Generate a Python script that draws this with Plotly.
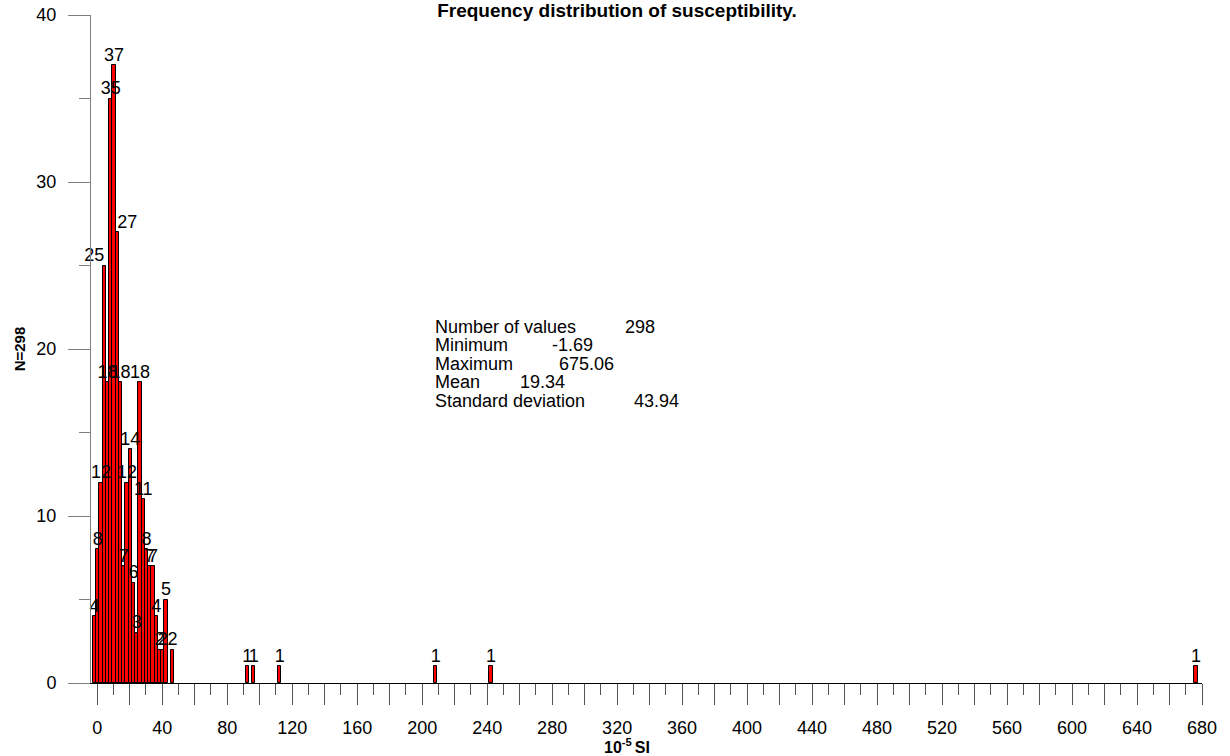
import plotly.graph_objects as go

# ---- data ----
BIN_CENTERS = [-1.7, 0.3, 2.3, 4.3, 6.3, 8.3, 10.3, 12.3, 14.3, 16.3, 18.3, 20.3,
               22.3, 24.3, 26.3, 28.3, 30.3, 32.3, 34.3, 36.3, 38.3, 40.3, 42.3, 46.3,
               92.3, 96.3, 112.3, 208.3, 242.3, 676.3]
COUNTS = [4, 8, 12, 25, 18, 35, 37, 27, 18, 7, 12, 14,
          6, 3, 18, 11, 8, 7, 7, 4, 2, 2, 5, 2,
          1, 1, 1, 1, 1, 1]
BIN_WIDTH = 2.0

X_TICK_VALUES = [0, 20, 40, 60, 80, 100, 120, 140, 160, 180, 200, 220, 240, 260, 280, 300,
                 320, 340, 360, 380, 400, 420, 440, 460, 480, 500, 520, 540, 560, 580, 600,
                 620, 640, 660, 680]
X_TICK_LABELS = ["0", "", "40", "", "80", "", "120", "", "160", "", "200", "", "240", "", "280", "",
                 "320", "", "360", "", "400", "", "440", "", "480", "", "520", "", "560", "", "600",
                 "", "640", "", "680"]
X_MINOR_VALUES = [10, 30, 50, 70, 90, 110, 130, 150, 170, 190, 210, 230, 250, 270, 290, 310,
                  330, 350, 370, 390, 410, 430, 450, 470, 490, 510, 530, 550, 570, 590, 610,
                  630, 650, 670]
Y_TICK_VALUES = [0, 10, 20, 30, 40]

STAT_NAMES = ["Number of values", "Minimum", "Maximum", "Mean", "Standard deviation"]
STAT_VALUES = ["298", "-1.69", "675.06", "19.34", "43.94"]

TITLE = "Frequency distribution of susceptibility."
X_TITLE = "10<sup>-5 </sup>SI"
Y_TITLE = "N=298"

FONT = "Arial, Liberation Sans, sans-serif"

W, H = 1230, 756
# plot area in page pixels: x 68..1202, y 15..683
PX0, PX1, PY0, PY1 = 68, 1202, 15, 683
L, R, T, B = PX0, W - PX1, PY0, H - PY1
pw, ph = PX1 - PX0, PY1 - PY0


def px_to_paper_x(px):
    return (px - PX0) / pw


def py_to_paper_y(py):
    return (PY1 - py) / ph


# label alignment nudges seen in the reference (index -> textposition)
LABEL_POS = {3: "top left", 7: "top right"}

fig = go.Figure()
fig.add_trace(go.Bar(
    x=BIN_CENTERS, y=COUNTS, width=BIN_WIDTH,
    marker=dict(color="#FF0000", line=dict(color="#000000", width=1)),
    showlegend=False, hoverinfo="x+y",
))
fig.add_trace(go.Scatter(
    x=BIN_CENTERS, y=COUNTS, mode="text",
    text=[str(c) for c in COUNTS],
    textposition=[LABEL_POS.get(i, "top center") for i in range(len(COUNTS))],
    textfont=dict(family=FONT, size=18, color="#000000"),
    showlegend=False, hoverinfo="skip", cliponaxis=False,
))

# statistics block (page pixel positions)
label_x_px = 432.5
value_x_px = [623, 550, 557, 518, 632]
line_y_px = [326.5, 345, 363.5, 382, 400.5]
for name, val, vx, ly in zip(STAT_NAMES, STAT_VALUES, value_x_px, line_y_px):
    yp = py_to_paper_y(ly)
    fig.add_annotation(x=px_to_paper_x(label_x_px), y=yp, xref="paper", yref="paper",
                       text=name, showarrow=False, xanchor="left", yanchor="middle",
                       font=dict(family=FONT, size=18, color="#000000"))
    fig.add_annotation(x=px_to_paper_x(vx), y=yp, xref="paper", yref="paper",
                       text=val, showarrow=False, xanchor="left", yanchor="middle",
                       font=dict(family=FONT, size=18, color="#000000"))

# x-axis title as an annotation so it can sit slightly left of the plot centre, as in the reference
fig.add_annotation(x=px_to_paper_x(627), y=py_to_paper_y(746), xref="paper", yref="paper",
                   text="<b>" + X_TITLE + "</b>", showarrow=False,
                   xanchor="center", yanchor="middle",
                   font=dict(family=FONT, size=16, color="#000000"))

fig.update_layout(
    template="none",
    width=W, height=H,
    margin=dict(l=L, r=R, t=T, b=B, autoexpand=False),
    paper_bgcolor="white", plot_bgcolor="white",
    font=dict(family=FONT, size=18, color="#000000"),
    bargap=0,
    title=dict(text="<b>" + TITLE + "</b>", x=617 / W, xref="container", xanchor="center",
               y=1 - 10 / H, yref="container", yanchor="middle",
               font=dict(family=FONT, size=19, color="#000000")),
    xaxis=dict(
        range=[-18, 680], showgrid=False, zeroline=False, automargin=False,
        showline=True, linecolor="#000000", linewidth=1,
        tickmode="array", tickvals=X_TICK_VALUES, ticktext=X_TICK_LABELS,
        ticks="outside", ticklen=21, tickcolor="#555555", tickwidth=1,
        ticklabelstandoff=7, ticklabeloverflow="allow",
        tickfont=dict(family=FONT, size=18, color="#000000"),
        minor=dict(tickmode="array", tickvals=X_MINOR_VALUES, ticks="outside",
                   ticklen=11, tickcolor="#555555", tickwidth=1, showgrid=False),
    ),
    yaxis=dict(
        range=[0, 40], showgrid=False, zeroline=False, automargin=False,
        anchor="free", position=(90 - PX0) / pw,
        showline=True, linecolor="#808080", linewidth=1,
        tickmode="array", tickvals=Y_TICK_VALUES,
        ticks="outside", ticklen=22, tickcolor="#808080", tickwidth=1,
        ticklabelstandoff=8, ticklabeloverflow="allow",
        tickfont=dict(family=FONT, size=18, color="#000000"),
        minor=dict(dtick=5, ticks="outside", ticklen=11, tickcolor="#808080",
                   tickwidth=1, showgrid=False),
        title=dict(text="<b>" + Y_TITLE + "</b>", standoff=6,
                   font=dict(family=FONT, size=15, color="#000000")),
    ),
)

fig.write_html("out.html", config={"displayModeBar": False},
               post_script="document.body.style.margin='0';document.body.style.overflow='hidden';")
